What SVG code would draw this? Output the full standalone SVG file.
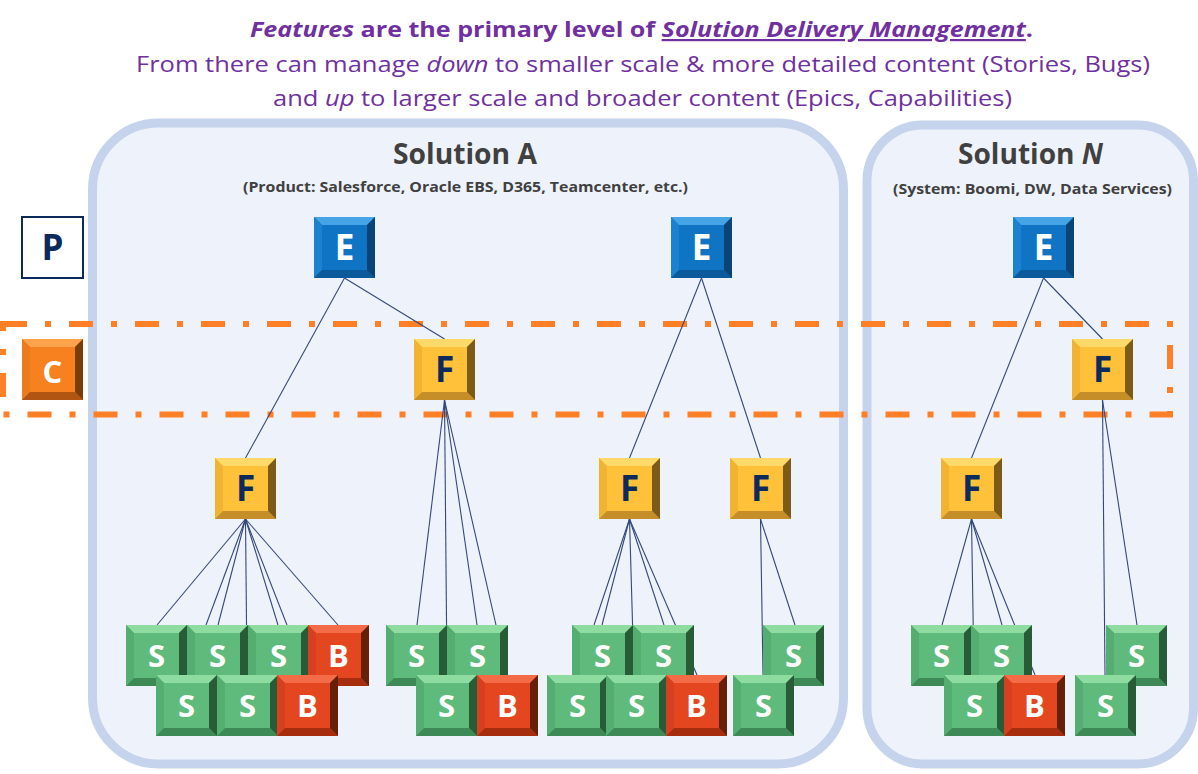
<svg xmlns="http://www.w3.org/2000/svg" xmlns:xlink="http://www.w3.org/1999/xlink" width="1198" height="774" viewBox="0 0 1198 774">
<style>
.cont{fill:#EEF2FA;stroke:#C5D4EC;stroke-width:9}
.band{fill:none;stroke:#FF7F27;stroke-width:6;stroke-dasharray:24 18 6 18}
.ttl{font-family:"Open Sans","Liberation Sans",sans-serif;fill:#7030A0;font-size:22px}
.sol{font-family:"Open Sans","Liberation Sans",sans-serif;fill:#404040;font-weight:700}
.lt{font-family:"Open Sans","Liberation Sans",sans-serif;font-weight:700;text-anchor:middle}
.big{font-size:35px}
.sm{font-size:31px}
.w{fill:#FFFFFF}
.n{fill:#0C2A5C}
.conn line{stroke:#34497A;stroke-width:1.1}
</style>
<defs>
<g id="bv-E">
<rect width="61" height="61" fill="#0F74C4"/>
<polygon points="0,0 61,0 53,8 8,8" fill="#45A4E6"/>
<polygon points="0,0 8,8 8,53 0,61" fill="#1B82D2"/>
<polygon points="0,61 8,53 53,53 61,61" fill="#0B5A9C"/>
<polygon points="61,0 61,61 53,53 53,8" fill="#0A4375"/>
</g>
<g id="bv-F">
<rect width="61" height="61" fill="#FFC13A"/>
<polygon points="0,0 61,0 53,8 8,8" fill="#FFDA6A"/>
<polygon points="0,0 8,8 8,53 0,61" fill="#F2B232"/>
<polygon points="0,61 8,53 53,53 61,61" fill="#C68E28"/>
<polygon points="61,0 61,61 53,53 53,8" fill="#7D5A16"/>
</g>
<g id="bv-S">
<rect width="61" height="61" fill="#5FBB7C"/>
<polygon points="0,0 61,0 53,8 8,8" fill="#8EDC9F"/>
<polygon points="0,0 8,8 8,53 0,61" fill="#55AE71"/>
<polygon points="0,61 8,53 53,53 61,61" fill="#3E8A56"/>
<polygon points="61,0 61,61 53,53 53,8" fill="#275C36"/>
</g>
<g id="bv-B">
<rect width="61" height="61" fill="#E4461F"/>
<polygon points="0,0 61,0 53,8 8,8" fill="#F36C47"/>
<polygon points="0,0 8,8 8,53 0,61" fill="#D64020"/>
<polygon points="0,61 8,53 53,53 61,61" fill="#A62E0F"/>
<polygon points="61,0 61,61 53,53 53,8" fill="#66200A"/>
</g>
<g id="bv-C">
<rect width="61" height="61" fill="#F7801F"/>
<polygon points="0,0 61,0 53,8 8,8" fill="#FFA24C"/>
<polygon points="0,0 8,8 8,53 0,61" fill="#EC7A1F"/>
<polygon points="0,61 8,53 53,53 61,61" fill="#B05612"/>
<polygon points="61,0 61,61 53,53 53,8" fill="#7A3D0A"/>
</g>
</defs>
<rect width="1198" height="774" fill="#FFFFFF"/>

<g id="title">
<text class="ttl" x="250" y="37" font-weight="700" textLength="783" lengthAdjust="spacingAndGlyphs"><tspan font-style="italic">Features</tspan> are the primary level of <tspan font-style="italic" text-decoration="underline">Solution Delivery Management</tspan>.</text>
<text class="ttl" x="136" y="72" textLength="1014" lengthAdjust="spacingAndGlyphs">From there can manage <tspan font-style="italic">down</tspan> to smaller scale &amp; more detailed content (Stories, Bugs)</text>
<text class="ttl" x="273" y="106" textLength="739" lengthAdjust="spacingAndGlyphs">and <tspan font-style="italic">up</tspan> to larger scale and broader content (Epics, Capabilities)</text>
</g>

<g id="solution-a">
<rect class="cont" x="92.5" y="123" width="751" height="641" rx="66"/>
<text class="sol" x="393" y="164" font-size="28" textLength="144" lengthAdjust="spacingAndGlyphs">Solution A</text>
<text class="sol" x="243" y="192" font-size="15" textLength="445" lengthAdjust="spacingAndGlyphs">(Product: Salesforce, Oracle EBS, D365, Teamcenter, etc.)</text>
</g>
<g id="solution-n">
<rect class="cont" x="867" y="125" width="326.5" height="639" rx="56"/>
<text class="sol" x="958" y="164" font-size="28" textLength="145" lengthAdjust="spacingAndGlyphs">Solution <tspan font-style="italic">N</tspan></text>
<text class="sol" x="893" y="194" font-size="15" textLength="279" lengthAdjust="spacingAndGlyphs">(System: Boomi, DW, Data Services)</text>
</g>

<g id="capability-band">
<rect class="band" x="3" y="324" width="1167" height="90.5"/>
</g>

<g id="p-label">
<rect x="22" y="217" width="61" height="61" fill="#FFFFFF" stroke="#0C2A5C" stroke-width="2"/>
<text class="lt big n" x="52.5" y="260">P</text>
</g>
<g id="c-label">
<use href="#bv-C" x="22" y="339"/>
<text class="lt sm w" x="52.5" y="383">C</text>
</g>

<g id="connectors" class="conn">
<line x1="344.5" y1="278" x2="245.5" y2="458"/>
<line x1="344.5" y1="278" x2="444.5" y2="339"/>
<line x1="701.5" y1="278" x2="629.5" y2="458"/>
<line x1="701.5" y1="278" x2="760.5" y2="458"/>
<line x1="1043.5" y1="278" x2="971.5" y2="458"/>
<line x1="1043.5" y1="278" x2="1102.5" y2="339"/>
<line x1="245.5" y1="519" x2="157" y2="625"/>
<line x1="245.5" y1="519" x2="206" y2="625"/>
<line x1="245.5" y1="519" x2="218" y2="625"/>
<line x1="245.5" y1="519" x2="247" y2="675"/>
<line x1="245.5" y1="519" x2="278" y2="625"/>
<line x1="245.5" y1="519" x2="287" y2="625"/>
<line x1="245.5" y1="519" x2="338" y2="625"/>
<line x1="444.5" y1="400" x2="417" y2="625"/>
<line x1="444.5" y1="400" x2="447" y2="675"/>
<line x1="444.5" y1="400" x2="477" y2="625"/>
<line x1="444.5" y1="400" x2="496" y2="625"/>
<line x1="629.5" y1="519" x2="594" y2="625"/>
<line x1="629.5" y1="519" x2="602" y2="625"/>
<line x1="629.5" y1="519" x2="634" y2="675"/>
<line x1="629.5" y1="519" x2="664" y2="625"/>
<line x1="629.5" y1="519" x2="697" y2="675"/>
<line x1="760.5" y1="519" x2="763" y2="675"/>
<line x1="760.5" y1="519" x2="795" y2="625"/>
<line x1="971.5" y1="519" x2="942" y2="625"/>
<line x1="971.5" y1="519" x2="974" y2="675"/>
<line x1="971.5" y1="519" x2="1002" y2="625"/>
<line x1="971.5" y1="519" x2="1035" y2="675"/>
<line x1="1102.5" y1="400" x2="1105" y2="675"/>
<line x1="1102.5" y1="400" x2="1137" y2="625"/>
</g>

<g id="e1"><use href="#bv-E" x="314" y="217"/><text class="lt big w" x="344.5" y="260">E</text></g>
<g id="e2"><use href="#bv-E" x="671" y="217"/><text class="lt big w" x="701.5" y="260">E</text></g>
<g id="e3"><use href="#bv-E" x="1013" y="217"/><text class="lt big w" x="1043.5" y="260">E</text></g>
<g id="f2"><use href="#bv-F" x="414" y="339"/><text class="lt big n" x="444.5" y="382">F</text></g>
<g id="fn-top"><use href="#bv-F" x="1072" y="339"/><text class="lt big n" x="1102.5" y="382">F</text></g>
<g id="f1"><use href="#bv-F" x="215" y="458"/><text class="lt big n" x="245.5" y="501">F</text></g>
<g id="f3"><use href="#bv-F" x="599" y="458"/><text class="lt big n" x="629.5" y="501">F</text></g>
<g id="f4"><use href="#bv-F" x="730" y="458"/><text class="lt big n" x="760.5" y="501">F</text></g>
<g id="fn-low"><use href="#bv-F" x="941" y="458"/><text class="lt big n" x="971.5" y="501">F</text></g>

<g id="a1-s1"><use href="#bv-S" x="126" y="625"/><text class="lt sm w" x="156.5" y="667">S</text></g>
<g id="a1-s2"><use href="#bv-S" x="187" y="625"/><text class="lt sm w" x="217.5" y="667">S</text></g>
<g id="a1-s3"><use href="#bv-S" x="248" y="625"/><text class="lt sm w" x="278.5" y="667">S</text></g>
<g id="a1-b1"><use href="#bv-B" x="308" y="625"/><text class="lt sm w" x="338.5" y="667">B</text></g>
<g id="a1-s4"><use href="#bv-S" x="156" y="675"/><text class="lt sm w" x="186.5" y="717">S</text></g>
<g id="a1-s5"><use href="#bv-S" x="217" y="675"/><text class="lt sm w" x="247.5" y="717">S</text></g>
<g id="a1-b2"><use href="#bv-B" x="277" y="675"/><text class="lt sm w" x="307.5" y="717">B</text></g>

<g id="a2-s1"><use href="#bv-S" x="386" y="625"/><text class="lt sm w" x="416.5" y="667">S</text></g>
<g id="a2-s2"><use href="#bv-S" x="447" y="625"/><text class="lt sm w" x="477.5" y="667">S</text></g>
<g id="a2-s3"><use href="#bv-S" x="416" y="675"/><text class="lt sm w" x="446.5" y="717">S</text></g>
<g id="a2-b1"><use href="#bv-B" x="477" y="675"/><text class="lt sm w" x="507.5" y="717">B</text></g>

<g id="a3-s1"><use href="#bv-S" x="572" y="625"/><text class="lt sm w" x="602.5" y="667">S</text></g>
<g id="a3-s2"><use href="#bv-S" x="633" y="625"/><text class="lt sm w" x="663.5" y="667">S</text></g>
<g id="a3-s3"><use href="#bv-S" x="547" y="675"/><text class="lt sm w" x="577.5" y="717">S</text></g>
<g id="a3-s4"><use href="#bv-S" x="606" y="675"/><text class="lt sm w" x="636.5" y="717">S</text></g>
<g id="a3-b1"><use href="#bv-B" x="666" y="675"/><text class="lt sm w" x="696.5" y="717">B</text></g>

<g id="a4-s1"><use href="#bv-S" x="763" y="625"/><text class="lt sm w" x="793.5" y="667">S</text></g>
<g id="a4-s2"><use href="#bv-S" x="733" y="675"/><text class="lt sm w" x="763.5" y="717">S</text></g>

<g id="n1-s1"><use href="#bv-S" x="911" y="625"/><text class="lt sm w" x="941.5" y="667">S</text></g>
<g id="n1-s2"><use href="#bv-S" x="971" y="625"/><text class="lt sm w" x="1001.5" y="667">S</text></g>
<g id="n1-s3"><use href="#bv-S" x="944" y="675"/><text class="lt sm w" x="974.5" y="717">S</text></g>
<g id="n1-b1"><use href="#bv-B" x="1004" y="675"/><text class="lt sm w" x="1034.5" y="717">B</text></g>

<g id="n2-s1"><use href="#bv-S" x="1106" y="625"/><text class="lt sm w" x="1136.5" y="667">S</text></g>
<g id="n2-s2"><use href="#bv-S" x="1075" y="675"/><text class="lt sm w" x="1105.5" y="717">S</text></g>
</svg>
